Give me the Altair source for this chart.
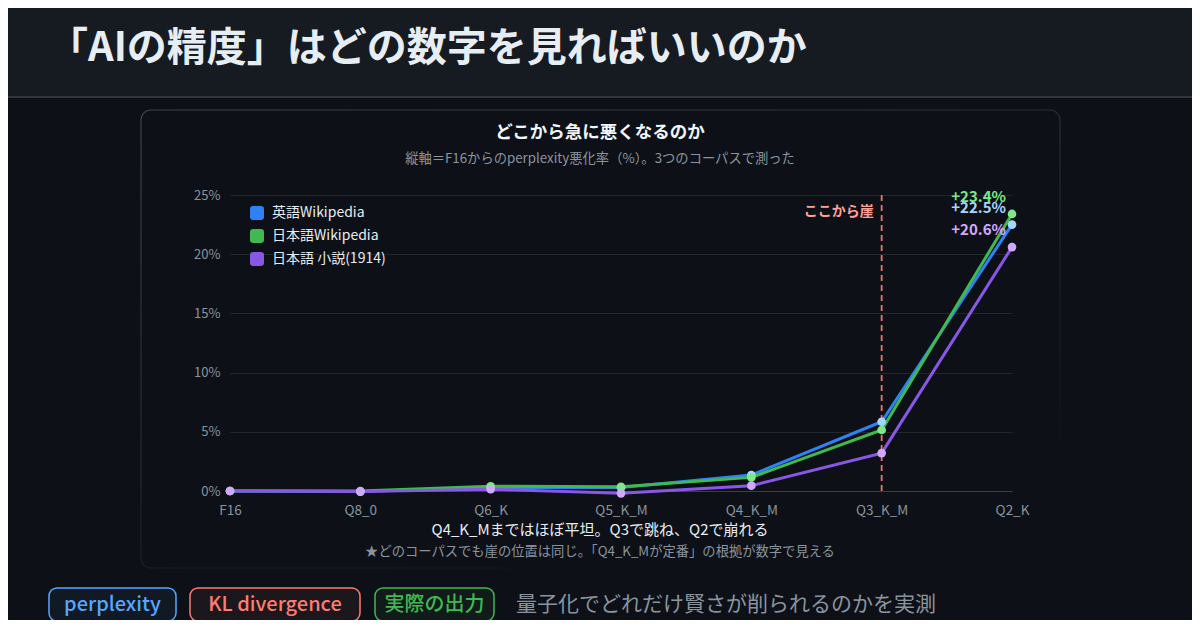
import pandas as pd
import altair as alt

# data (perplexity degradation vs F16, %)
quants = ["F16", "Q8_0", "Q6_K", "Q5_K_M", "Q4_K_M", "Q3_K_M", "Q2_K"]
series = ["英語Wikipedia", "日本語Wikipedia", "日本語 小説(1914)"]
en_wiki = [0.0, -0.05, 0.3, 0.3, 1.35, 5.85, 22.5]
ja_wiki = [0.0, 0.0, 0.4, 0.35, 1.15, 5.15, 23.4]
ja_novel = [0.0, -0.05, 0.15, -0.2, 0.45, 3.2, 20.6]
cliff_at = ["Q3_K_M"]
cliff_label = ["ここから崖"]
y_ticks = [0, 5, 10, 15, 20, 25]

line_colors = ["#2f81f7", "#3fb950", "#8957e5"]
point_colors = ["#a5d6ff", "#7ee787", "#d2a8ff"]

df = pd.DataFrame(
    [
        {"quant": q, "series": s, "value": v}
        for s, vals in zip(series, [en_wiki, ja_wiki, ja_novel])
        for q, v in zip(quants, vals)
    ]
)
df_cliff = pd.DataFrame({"quant": cliff_at, "label": cliff_label})

# plot area sits at screen x 230..1012, y 195..491 ; helpers convert screen px
X0, Y0 = 230, 195


def sx(x):
    return x - X0


def sy(y):
    return y - Y0


def text(t, x, y, size, color, weight="normal", align="left"):
    return (
        alt.Chart(pd.DataFrame({"t": [t]}))
        .mark_text(align=align, baseline="middle", fontSize=size, color=color, fontWeight=weight)
        .encode(text="t:N", x=alt.value(sx(x)), y=alt.value(sy(y)))
    )


def box(x0, x1, y0, y1, **kw):
    return (
        alt.Chart(pd.DataFrame({"a": [0]}))
        .mark_rect(**kw)
        .encode(x=alt.value(sx(x0)), x2=alt.value(sx(x1)), y=alt.value(sy(y0)), y2=alt.value(sy(y1)))
    )


def badge(t, x0, x1, color):
    return box(x0, x1, 588, 621, cornerRadius=8, fill=color, fillOpacity=0.06,
               stroke=color, strokeWidth=1.5) + text(t, (x0 + x1) / 2, 605, 20, color, 500, "center")


# decorations
header = box(-20, 1300, -20, 96, fill="#161b22") + box(-20, 1300, 96, 98, fill="#30363d")
card = box(141, 1060, 110, 568, cornerRadius=10, filled=False, strokeWidth=1.2,
           stroke=alt.Gradient(gradient="linear", x1=0, y1=0, x2=0.6, y2=1,
                               stops=[alt.GradientStop(color="#3d434b", offset=0),
                                      alt.GradientStop(color="#0d1117", offset=1)]))
titles = (
    text("「AIの精度」はどの数字を見ればいいのか", 48, 49, 40, "#e6edf3", "bold")
    + text("どこから急に悪くなるのか", 600, 133, 17.5, "#f0f6fc", "bold", "center")
    + text("縦軸＝F16からのperplexity悪化率（%）。3つのコーパスで測った", 600, 159, 13.3, "#8b949e", align="center")
    + text("Q4_K_Mまではほぼ平坦。Q3で跳ね、Q2で崩れる", 600, 530, 15, "#e6edf3", align="center")
    + text("★どのコーパスでも崖の位置は同じ。「Q4_K_Mが定番」の根拠が数字で見える", 600, 552, 13.3, "#8b949e", align="center")
)
footer = (
    badge("perplexity", 49, 176, "#58a6ff")
    + badge("KL divergence", 190, 360, "#ff7b72")
    + badge("実際の出力", 375, 494, "#3fb950")
    + text("量子化でどれだけ賢さが削られるのかを実測", 516, 605, 21, "#8b949e")
)

# main chart
x_enc = alt.X(
    "quant:N", sort=quants, scale=alt.Scale(type="point", padding=0),
    axis=alt.Axis(title=None, labelAngle=0, domain=False, ticks=False, grid=False,
                  labelColor="#8b949e", labelFontSize=13.5, labelPadding=12),
)
y_enc = alt.Y(
    "value:Q", scale=alt.Scale(domain=[0, 25], nice=False),
    axis=alt.Axis(title=None, values=y_ticks, labelExpr="datum.value + '%'", domain=False, ticks=False,
                  gridColor={"condition": {"test": "datum.value === 0", "value": "#3a3f46"}, "value": "#21262d"},
                  labelColor="#8b949e", labelFontSize=13, labelPadding=10),
)
rounded = "M-1,-0.55 Q-1,-1 -0.55,-1 L0.55,-1 Q1,-1 1,-0.55 L1,0.55 Q1,1 0.55,1 L-0.55,1 Q-1,1 -1,0.55 Z"

base = alt.Chart(df).encode(x=x_enc, y=y_enc)

legend_layer = base.mark_square(size=4, opacity=1).encode(
    color=alt.Color("series:N", sort=series, scale=alt.Scale(domain=series, range=line_colors),
                    legend=alt.Legend(title=None, orient="none", legendX=20, legendY=11, padding=0,
                                      symbolType=rounded, symbolSize=196, symbolOpacity=1,
                                      symbolStrokeWidth=0, rowPadding=9, labelOffset=8,
                                      labelColor="#e6edf3", labelFontSize=14))
)
lines = base.mark_line(strokeWidth=3).encode(
    color=alt.Color("series:N", sort=series, scale=alt.Scale(domain=series, range=line_colors), legend=None)
)
points = base.mark_circle(size=75, opacity=1).encode(
    color=alt.Color("series:N", sort=series, scale=alt.Scale(domain=series, range=point_colors), legend=None)
)
end_labels = (
    base.transform_filter(alt.datum.quant == quants[-1])
    .transform_calculate(label="'+' + format(datum.value, '.1f') + '%'")
    .mark_text(align="right", baseline="middle", dx=-6, dy=-17, fontSize=15, fontWeight="bold")
    .encode(text="label:N",
            color=alt.Color("series:N", sort=series, scale=alt.Scale(domain=series, range=point_colors),
                            legend=None))
)
cliff = alt.Chart(df_cliff).mark_rule(color="#f47067", strokeWidth=1.8, strokeDash=[6, 4]).encode(
    x=alt.X("quant:N", sort=quants)
)
cliff_text = alt.Chart(df_cliff).mark_text(
    align="right", baseline="middle", dx=-8, fontSize=14, fontWeight="bold", color="#ffa198"
).encode(x=alt.X("quant:N", sort=quants), y=alt.value(sy(212)), text="label:N")

chart = (
    alt.layer(header, card, titles, footer, legend_layer, cliff, lines, points, end_labels, cliff_text)
    .resolve_scale(color="independent")
    .properties(
        width=782, height=296,
        autosize=alt.AutoSizeParams(type="none"),
        padding={"left": 222, "top": 187, "right": 180, "bottom": 129},
    )
    .configure(background="#0d1117", font="Noto Sans CJK JP")
    .configure_view(stroke=None)
)

chart.save("out.html", embed_options={"renderer": "svg", "actions": False})
